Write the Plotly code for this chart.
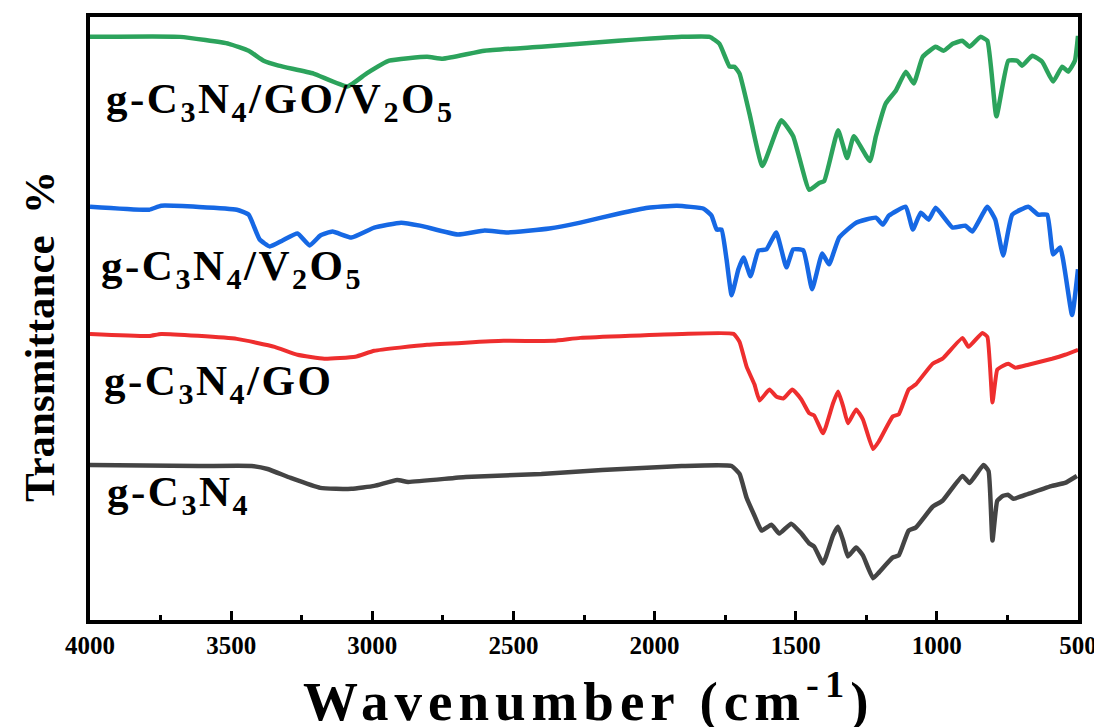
import plotly.graph_objects as go

# ---- data (wavenumber in cm^-1, transmittance in offset arbitrary units) ----
wn_go_v2o5 = [4000, 3681, 3508, 3438, 3385, 3332, 3208, 3088, 3021, 2940, 2806, 2750, 2602, 2401, 2129, 1904,
              1805, 1770, 1734, 1717, 1699, 1664, 1618, 1551, 1509, 1452, 1417, 1399, 1350, 1318, 1294, 1237,
              1216, 1181, 1145, 1110, 1082, 1050, 1004, 976, 944, 909, 884, 846, 821, 789, 747, 715, 698, 662,
              627, 588, 556, 535, 511, 500]
t_go_v2o5 = [587, 587, 580, 573, 563, 558, 550, 537, 550, 563, 567, 565, 573, 577, 583, 587,
             587, 580, 557, 557, 550, 510, 457, 503, 487, 433, 440, 442, 493, 465, 487, 462,
             487, 520, 533, 552, 540, 567, 577, 573, 580, 583, 577, 587, 583, 507, 563, 563, 558, 568,
             562, 542, 557, 552, 563, 588]

wn_v2o5 = [4000, 3790, 3748, 3480, 3438, 3399, 3363, 3318, 3265, 3222, 3184, 3141, 3074, 2993, 2898, 2831,
           2697, 2602, 2521, 2373, 2263, 2129, 2023, 1921, 1826, 1798, 1780, 1763, 1745, 1727, 1703, 1685,
           1660, 1632, 1604, 1569, 1533, 1509, 1473, 1442, 1406, 1382, 1346, 1286, 1216, 1191, 1170, 1110,
           1085, 1057, 1029, 1004, 944, 899, 874, 821, 793, 765, 733, 676, 641, 609, 588, 563, 521, 500]
t_v2o5 = [416, 413, 417, 413, 408, 383, 376, 382, 389, 377, 387, 391, 385, 395, 400, 397,
          388, 392, 390, 394, 400, 409, 415, 417, 414, 407, 393, 393, 363, 327, 353, 365,
          346, 372, 373, 390, 355, 373, 372, 333, 369, 358, 385, 400, 405, 398, 407, 416,
          393, 410, 403, 415, 395, 397, 391, 416, 403, 367, 408, 416, 408, 408, 368, 375, 307, 353]

wn_go = [4000, 3790, 3748, 3480, 3346, 3265, 3170, 3060, 2993, 2806, 2535, 2358, 2263, 1904, 1720, 1699,
         1674, 1646, 1628, 1593, 1569, 1544, 1512, 1480, 1452, 1435, 1403, 1368, 1350, 1332, 1315, 1286,
         1262, 1226, 1205, 1156, 1135, 1100, 1075, 1015, 980, 909, 888, 839, 821, 803, 786, 765, 747,
         722, 676, 592, 546, 500]
t_go = [288, 286, 288, 283, 275, 267, 263, 265, 271, 277, 281, 281, 284, 288, 288, 280,
        255, 237, 221, 232, 225, 223, 232, 222, 208, 206, 188, 218, 230, 215, 198, 212,
        202, 172, 180, 205, 207, 232, 237, 258, 263, 284, 275, 289, 285, 219, 252, 256, 258,
        254, 257, 263, 267, 272]

wn_gcn = [4000, 3614, 3427, 3371, 3289, 3184, 3074, 2993, 2912, 2873, 2669, 2401, 2186, 1904, 1727, 1699,
          1674, 1646, 1621, 1586, 1558, 1516, 1480, 1452, 1435, 1403, 1368, 1350, 1332, 1315, 1286, 1262,
          1226, 1205, 1156, 1135, 1100, 1075, 1015, 980, 909, 884, 835, 817, 803, 786, 765, 747, 729,
          676, 592, 546, 504]
t_gcn = [156, 155, 155, 152, 143, 133, 132, 135, 141, 139, 144, 147, 151, 155, 155, 147,
         123, 105, 90, 96, 87, 97, 87, 77, 74, 57, 85, 94, 80, 64, 73, 65,
         42, 48, 63, 65, 90, 93, 114, 120, 145, 138, 156, 150, 80, 120, 125, 126, 122,
         127, 135, 138, 145]

series = [
    ("g-C<sub>3</sub>N<sub>4</sub>/GO/V<sub>2</sub>O<sub>5</sub>", wn_go_v2o5, t_go_v2o5, "rgb(44,163,92)", 4.5),
    ("g-C<sub>3</sub>N<sub>4</sub>/V<sub>2</sub>O<sub>5</sub>", wn_v2o5, t_v2o5, "rgb(22,104,228)", 4.5),
    ("g-C<sub>3</sub>N<sub>4</sub>/GO", wn_go, t_go, "rgb(238,46,46)", 4),
    ("g-C<sub>3</sub>N<sub>4</sub>", wn_gcn, t_gcn, "rgb(68,68,68)", 4.5),
]

# label anchor positions (left edge, vertical centre) in data units
label_wn = [3952, 3968, 3958, 3947]
label_t = [521, 353, 238, 126]

serif = "Times New Roman, Liberation Serif, serif"

fig = go.Figure()
for (name, x, y, col, w) in series:
    fig.add_trace(go.Scatter(x=x, y=y, mode="lines", name=name,
                             line=dict(color=col, width=w, shape="spline", smoothing=0.4),
                             showlegend=False, hoverinfo="skip"))

for (name, *_), lx, ly in zip(series, label_wn, label_t):
    fig.add_annotation(x=lx, y=ly, xref="x", yref="y",
                       text="<span style='letter-spacing:2.5px'><b>" + name + "</b></span>",
                       showarrow=False, xanchor="left", yanchor="middle",
                       font=dict(family=serif, size=43, color="black"))

fig.add_annotation(x=0.5055, y=-0.128, xref="paper", yref="paper",
                   text="<span style='letter-spacing:6px'><b>Wavenumber (cm<sup>-1</sup>)</b></span>",
                   showarrow=False, xanchor="center", yanchor="middle",
                   font=dict(family=serif, size=55, color="black"))
fig.add_annotation(x=-0.0504, y=0.4695, xref="paper", yref="paper",
                   text="<b>Transmittance  %</b>", showarrow=False, textangle=-90,
                   xanchor="center", yanchor="middle",
                   font=dict(family=serif, size=43, color="black"))

fig.update_layout(
    width=1094, height=719,
    margin=dict(l=82, r=19, t=5, b=107),
    paper_bgcolor="white", plot_bgcolor="white",
    xaxis=dict(range=[4000, 500], tick0=500, dtick=500, ticks="inside", ticklen=9, tickwidth=3,
               tickcolor="black", showline=True, linewidth=4, linecolor="black", mirror=True,
               showgrid=False, zeroline=False, ticklabelstandoff=0, ticklabeloverflow="allow",
               tickfont=dict(family=serif, size=25, color="black", weight="bold"),
               minor=dict(dtick=250, tick0=500, ticks="inside", ticklen=5, tickwidth=3, tickcolor="black")),
    yaxis=dict(range=[0, 607], showticklabels=False, ticks="", showline=True, linewidth=4,
               linecolor="black", mirror=True, showgrid=False, zeroline=False),
)

fig.write_html("out.html", config={"displayModeBar": False},
               post_script="document.documentElement.style.overflow='hidden';"
                           "document.body.style.overflow='hidden';")
